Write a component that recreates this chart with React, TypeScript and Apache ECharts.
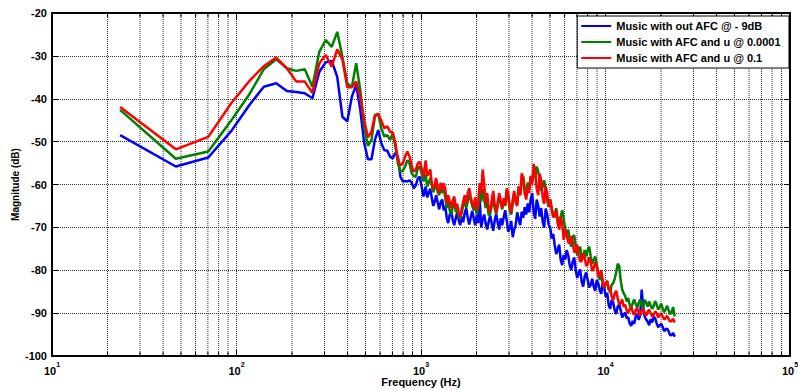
import React, { useEffect, useRef } from 'react';
import * as echarts from 'echarts';

// Frequencies (Hz) of the plotted points
const freqs: number[] = [
  23.4, 46.9, 70.3, 93.8, 117.2, 140.6, 164.1, 187.5, 210.9, 234.4,
  257.8, 281.3, 304.7, 328.1, 351.6, 375, 398.4, 421.9, 445.3, 468.8,
  492.2, 515.6, 539.1, 562.5, 585.9, 609.4, 632.8, 656.3, 679.7, 703.1,
  726.6, 750, 773.4, 796.9, 820.3, 843.8, 867.2, 890.6, 914.1, 937.5,
  960.9, 984.4, 1007.8, 1031.3,
  1060, 1080, 1101, 1122, 1143, 1165, 1187, 1209, 1232, 1255,
  1279, 1303, 1328, 1353, 1378, 1404, 1431, 1458, 1486, 1514,
  1542, 1571, 1601, 1631, 1662, 1693, 1726, 1759, 1791, 1825,
  1860, 1895, 1931, 1967, 2004, 2042, 2081, 2120, 2160, 2201,
  2243, 2285, 2328, 2372, 2417, 2463, 2509, 2556, 2605, 2654,
  2704, 2755, 2807, 2860, 2914, 2969, 3026, 3083, 3141, 3200,
  3261, 3323, 3385, 3449, 3514, 3580, 3648, 3717, 3788, 3860,
  3932, 4006, 4082, 4159, 4238, 4318, 4399, 4482, 4567, 4653,
  4741, 4831, 4922, 5015, 5110, 5207, 5305, 5405, 5507, 5611,
  5717, 5825, 5935, 6047, 6162, 6278, 6397, 6518, 6641, 6767,
  6894, 7024, 7157, 7292, 7430, 7570, 7713, 7859, 8007, 8158,
  8313, 8470, 8630, 8793, 8959, 9128, 9301, 9477, 9655, 9838,
  10024, 10213, 10406, 10603, 10803, 11007, 11215, 11427, 11643, 11863,
  12087, 12315, 12548, 12785, 13026, 13272, 13523, 13779, 14039, 14304,
  14574, 14850, 15130, 15416, 15707, 16004, 16306, 16614, 16928, 17248,
  17573, 17905, 18244, 18589, 18939, 19297, 19662, 20034, 20412, 20798,
  21190, 21590, 21998, 22414, 22837, 23270, 23708,
];

const blueVals: number[] = [
  -48.5, -55.8, -53.7, -47.5, -41.5, -37.2, -36.4, -38.2, -38.4, -38.7,
  -39.9, -33.7, -31.5, -31.2, -34.9, -44.2, -45.3, -39.5, -36.8, -42.6,
  -50.3, -54.1, -54.1, -49.6, -47.3, -50.4, -52.0, -52.1, -53.5, -53.9,
  -52.6, -53.5, -58.2, -59.3, -59.2, -59.3, -59.0, -59.6, -60.9, -60.2,
  -58.6, -58.2, -60.5, -62.8,
  -60.5, -63.0, -62.0, -61.0, -63.0, -65.0, -64.0, -62.5, -64.2, -65.8,
  -64.1, -63.5, -66.0, -65.0, -67.7, -69.0, -67.1, -66.0, -68.3, -69.5,
  -67.9, -66.5, -68.3, -69.5, -67.5, -68.8, -66.6, -65.5, -67.7, -69.3,
  -67.7, -66.2, -67.9, -69.5, -67.1, -69.0, -63.6, -70.0, -68.1, -67.0,
  -69.2, -70.5, -68.7, -67.2, -69.1, -70.8, -68.4, -66.8, -68.9, -70.5,
  -67.9, -69.5, -67.7, -66.0, -68.3, -71.0, -70.2, -68.5, -72.3, -70.5,
  -69.4, -66.5, -68.1, -69.5, -66.3, -67.8, -65.3, -67.0, -64.4, -66.5,
  -63.5, -62.0, -66.5, -68.0, -63.5, -65.0, -67.5, -65.5, -68.7, -70.0,
  -65.6, -67.0, -69.4, -70.0, -72.6, -71.5, -74.1, -76.2, -75.3, -74.0,
  -77.6, -78.8, -76.4, -77.5, -75.3, -76.5, -78.8, -80.0, -78.0, -77.0,
  -79.9, -81.8, -80.7, -79.8, -82.7, -83.8, -81.5, -80.5, -82.3, -84.0,
  -83.4, -82.0, -83.8, -84.8, -82.3, -83.0, -84.6, -85.5, -83.1, -84.0,
  -86.2, -85.2, -88.1, -89.0, -86.9, -87.5, -89.3, -90.2, -88.5, -88.0,
  -89.3, -91.0, -90.4, -89.8, -91.2, -91.0, -92.4, -93.0, -91.8, -92.5,
  -90.8, -90.2, -91.6, -90.5, -84.5, -88.5, -90.8, -91.5, -92.0, -92.8,
  -91.4, -92.2, -90.8, -91.2, -92.4, -93.3, -92.8, -92.5, -93.2, -94.2,
  -93.8, -93.6, -94.3, -95.2, -95.1, -94.6, -95.5,
];

const greenVals: number[] = [
  -42.6, -54.0, -52.3, -45.0, -39.0, -33.1, -30.8, -32.9, -33.5, -33.1,
  -37.2, -29.0, -26.3, -27.9, -24.4, -30.2, -36.4, -37.3, -31.7, -38.0,
  -46.5, -51.0, -49.6, -44.2, -43.4, -46.9, -48.8, -48.5, -49.6, -48.1,
  -51.2, -55.1, -57.0, -56.8, -55.8, -54.3, -55.1, -57.4, -58.0, -58.2,
  -56.2, -55.8, -57.4, -59.3,
  -57.5, -60.5, -59.6, -58.5, -60.0, -61.8, -60.8, -59.8, -61.8, -62.5,
  -60.3, -62.0, -61.0, -63.0, -65.5, -64.0, -66.0, -67.0, -65.0, -64.0,
  -66.4, -65.5, -67.5, -68.0, -66.5, -65.0, -63.8, -65.5, -64.0, -62.5,
  -63.5, -65.0, -66.0, -64.5, -67.0, -65.5, -62.0, -64.0, -61.0, -63.5,
  -65.5, -64.0, -67.2, -66.8, -65.0, -63.5, -65.5, -67.0, -65.0, -63.0,
  -64.2, -65.8, -64.0, -65.0, -62.0, -63.0, -66.0, -67.0, -64.5, -62.0,
  -63.5, -64.5, -60.5, -62.5, -59.5, -58.0, -61.0, -62.5, -59.5, -61.0,
  -58.2, -59.5, -56.6, -58.5, -55.8, -57.0, -59.0, -61.5, -60.5, -59.0,
  -61.3, -63.8, -65.2, -63.5, -65.6, -67.5, -67.1, -65.5, -67.9, -69.5,
  -67.5, -66.0, -67.9, -70.5, -72.2, -70.5, -73.0, -74.5, -72.2, -71.8,
  -74.5, -76.5, -75.3, -74.5, -77.6, -77.0, -75.3, -76.8, -75.3, -74.5,
  -76.8, -78.5, -77.6, -76.8, -78.4, -80.5, -82.3, -81.0, -83.1, -84.2,
  -83.1, -82.5, -84.2, -85.2, -83.4, -83.0, -82.0, -80.5, -78.5, -79.0,
  -82.3, -84.5, -85.4, -86.0, -87.3, -86.5, -88.1, -88.8, -87.7, -86.8,
  -87.9, -88.7, -87.6, -86.8, -88.3, -88.8, -86.9, -87.5, -88.5, -87.3,
  -88.2, -89.0, -88.3, -87.2, -88.0, -89.2, -88.6, -87.8, -88.9, -89.8,
  -89.1, -88.3, -89.4, -90.3, -89.7, -88.6, -90.8,
];

const redVals: number[] = [
  -41.9, -51.8, -48.9, -41.0, -35.9, -32.4, -30.4, -32.9, -36.0, -36.0,
  -38.6, -31.7, -29.8, -32.5, -28.5, -30.8, -37.3, -37.3, -36.0, -39.5,
  -45.0, -49.0, -47.7, -43.8, -43.6, -45.1, -46.9, -46.4, -47.7, -47.9,
  -50.4, -54.3, -55.5, -55.1, -53.5, -52.3, -53.5, -55.8, -57.0, -56.6,
  -55.1, -54.7, -56.2, -58.2,
  -54.4, -58.0, -57.4, -56.5, -59.7, -61.0, -59.9, -58.5, -60.9, -62.0,
  -59.6, -61.2, -59.7, -61.0, -64.4, -62.5, -64.0, -65.5, -63.8, -62.8,
  -65.6, -64.5, -66.9, -67.5, -65.6, -64.0, -62.5, -64.5, -62.2, -60.8,
  -62.8, -64.5, -65.2, -63.0, -66.1, -64.0, -59.7, -62.0, -56.5, -60.0,
  -64.4, -62.0, -66.3, -66.0, -63.6, -61.5, -64.8, -66.5, -64.2, -62.0,
  -63.8, -65.5, -63.2, -64.8, -60.9, -62.0, -65.2, -66.5, -63.6, -61.5,
  -64.2, -65.0, -60.5, -62.5, -57.4, -58.5, -62.1, -63.5, -60.5, -62.0,
  -58.0, -60.0, -55.2, -57.0, -61.0, -62.5, -57.5, -59.0, -63.0, -64.5,
  -60.5, -62.0, -65.2, -63.5, -65.6, -67.5, -67.5, -66.0, -69.1, -70.5,
  -67.5, -69.0, -72.9, -70.5, -71.8, -73.5, -73.7, -72.0, -73.5, -75.8,
  -75.5, -74.0, -76.5, -78.0, -77.8, -76.0, -77.0, -79.0, -78.6, -77.0,
  -78.0, -80.2, -79.5, -78.2, -79.0, -81.5, -80.7, -80.0, -82.3, -84.0,
  -83.1, -82.5, -84.6, -84.0, -86.2, -87.0, -85.4, -84.8, -86.5, -88.0,
  -87.7, -86.8, -88.5, -88.0, -89.3, -90.0, -89.1, -88.5, -89.7, -90.4,
  -89.3, -88.8, -90.0, -90.6, -89.4, -89.0, -90.0, -90.6, -89.7, -89.2,
  -90.0, -90.8, -90.4, -89.6, -90.0, -91.0, -90.5, -90.0, -90.8, -91.5,
  -91.1, -90.6, -91.4, -92.0, -91.8, -91.3, -92.2,
];

const seriesNames = [
  'Music with out AFC @ - 9dB',
  'Music with AFC and u @ 0.0001',
  'Music with AFC and u @ 0.1',
];
const seriesColors = ['#0000ff', '#008000', '#ff0000'];

const X_MIN = 10;
const X_MAX = 100000;
const Y_MIN = -100;
const Y_MAX = -20;
const Y_STEP = 10;
const decades = [10, 100, 1000, 10000];
const minorMultipliers = [2, 3, 4, 5, 6, 7, 8, 9];

const FONT = '"Liberation Sans", Arial, Helvetica, sans-serif';

export default function App() {
  const ref = useRef<HTMLDivElement>(null);

  useEffect(() => {
    if (!ref.current) return;
    const chart = echarts.init(ref.current, null, { renderer: 'svg' });

    const minorTicks = decades.flatMap((d) => minorMultipliers.map((m) => [d * m, Y_MIN]));
    const mk = (vals: number[]) => freqs.map((f, i) => [f, vals[i]]);
    const valsList = [blueVals, greenVals, redVals];

    const gridLine = { show: true, lineStyle: { color: '#333', width: 1, type: [1, 1] } };
    const frameLine = { show: true, onZero: false, lineStyle: { color: '#000', width: 2 } };

    const option: any = {
      animation: false,
      backgroundColor: '#fff',
      grid: { left: 52, right: 8, top: 13, bottom: 34, containLabel: false, outerBoundsMode: 'none' },
      legend: {
        data: seriesNames,
        orient: 'vertical',
        right: 9,
        top: 16,
        backgroundColor: '#fff',
        borderColor: '#000',
        borderWidth: 1,
        borderRadius: 0,
        padding: [3, 8, 3, 4],
        itemGap: 2,
        itemWidth: 30,
        itemHeight: 2,
        icon: 'rect',
        selectedMode: false,
        align: 'left',
        textStyle: { fontFamily: FONT, fontWeight: 'bold', fontSize: 11, color: '#000', lineHeight: 14 },
      },
      xAxis: [
        {
          type: 'log',
          logBase: 10,
          min: X_MIN,
          max: X_MAX,
          position: 'bottom',
          axisLine: frameLine,
          axisTick: { show: true, inside: true, length: 6, lineStyle: { color: '#000', width: 1 } },
          axisLabel: {
            margin: 5,
            formatter: (v: number) => `{b|10}{e|${Math.round(Math.log10(v))}}`,
            rich: {
              b: { fontFamily: FONT, fontWeight: 'bold', fontSize: 11, color: '#000', lineHeight: 15, verticalAlign: 'bottom' },
              e: { fontFamily: FONT, fontWeight: 'bold', fontSize: 7, color: '#000', lineHeight: 8, verticalAlign: 'top' },
            },
          },
          splitLine: gridLine,
          name: 'Frequency (Hz)',
          nameLocation: 'middle',
          nameGap: 20,
          nameMoveOverlap: false,
          nameTextStyle: { fontFamily: FONT, fontWeight: 'bold', fontSize: 11, color: '#000' },
        },
        {
          type: 'log',
          logBase: 10,
          min: X_MIN,
          max: X_MAX,
          position: 'top',
          axisLine: frameLine,
          axisTick: { show: true, inside: true, length: 6, lineStyle: { color: '#000', width: 1 } },
          axisLabel: { show: false },
          splitLine: { show: false },
        },
      ],
      yAxis: [
        {
          type: 'value',
          min: Y_MIN,
          max: Y_MAX,
          interval: Y_STEP,
          position: 'left',
          axisLine: frameLine,
          axisTick: { show: true, inside: true, length: 6, lineStyle: { color: '#000', width: 1 } },
          axisLabel: { margin: 5, fontFamily: FONT, fontWeight: 'bold', fontSize: 11, color: '#000' },
          splitLine: gridLine,
          name: 'Magnitude (dB)',
          nameLocation: 'middle',
          nameGap: 32,
          nameMoveOverlap: false,
          nameRotate: 90,
          nameTextStyle: { fontFamily: FONT, fontWeight: 'bold', fontSize: 10, color: '#000' },
        },
        {
          type: 'value',
          min: Y_MIN,
          max: Y_MAX,
          interval: Y_STEP,
          position: 'right',
          axisLine: frameLine,
          axisTick: { show: true, inside: true, length: 6, lineStyle: { color: '#000', width: 1 } },
          axisLabel: { show: false },
          splitLine: { show: false },
        },
      ],
      series: [
        {
          type: 'custom',
          name: 'minor-grid',
          silent: true,
          z: 1,
          clip: false,
          xAxisIndex: 0,
          yAxisIndex: 0,
          data: minorTicks,
          renderItem: (_params: any, api: any) => {
            const v = api.value(0);
            const top = api.coord([v, Y_MAX]);
            const bot = api.coord([v, Y_MIN]);
            return {
              type: 'group',
              children: [
                {
                  type: 'line',
                  shape: { x1: top[0], y1: top[1], x2: bot[0], y2: bot[1] },
                  style: { stroke: '#333', lineWidth: 1, lineDash: [1, 1] },
                },
                {
                  type: 'line',
                  shape: { x1: bot[0], y1: bot[1], x2: bot[0], y2: bot[1] - 4 },
                  style: { stroke: '#000', lineWidth: 1 },
                },
                {
                  type: 'line',
                  shape: { x1: top[0], y1: top[1], x2: top[0], y2: top[1] + 4 },
                  style: { stroke: '#000', lineWidth: 1 },
                },
              ],
            };
          },
        },
        ...seriesNames.map((name, i) => ({
          type: 'line',
          name,
          data: mk(valsList[i]),
          showSymbol: false,
          symbol: 'none',
          z: 3 + i,
          lineStyle: { color: seriesColors[i], width: 2.5 },
          itemStyle: { color: seriesColors[i] },
          emphasis: { disabled: true },
        })),
      ],
    };

    chart.setOption(option);
    return () => chart.dispose();
  }, []);

  return (
    <div
      ref={ref}
      style={{ position: 'fixed', left: 0, top: 0, width: 798, height: 390, background: '#fff' }}
    />
  );
}
